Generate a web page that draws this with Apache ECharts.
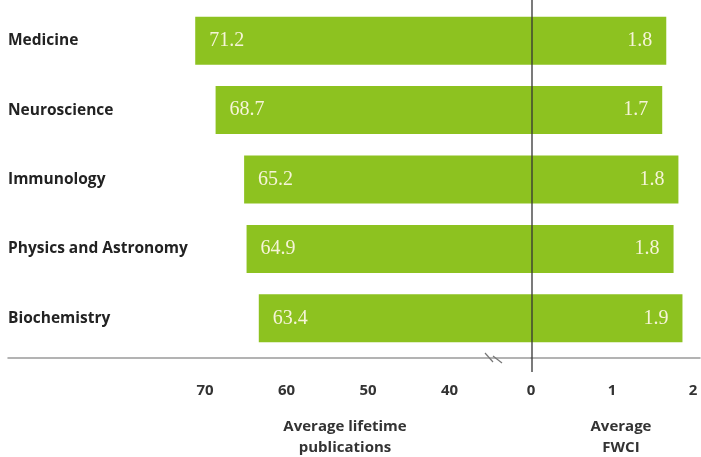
<!DOCTYPE html>
<html>
<head>
<meta charset="utf-8">
<script src="https://cdn.jsdelivr.net/npm/echarts@6/dist/echarts.min.js"></script>
<style>html,body{margin:0;padding:0;background:#fff}#c{width:701px;height:457px}</style>
</head>
<body>
<div id="c"></div>
<script>
const categories = ['Medicine', 'Neuroscience', 'Immunology', 'Physics and Astronomy', 'Biochemistry'];
const publications = [71.2, 68.7, 65.2, 64.9, 63.4];
const fwciBars = [1.67, 1.62, 1.82, 1.76, 1.87];
const fwciLabels = ['1.8', '1.7', '1.8', '1.8', '1.9'];
const pubTicks = [40, 50, 60, 70];
const fwciTicks = [0, 1, 2];

const green = '#8dc220';
const labelColor = '#f6f4d8';
const chart = echarts.init(document.getElementById('c'));
const tickFont = { fontFamily: 'Open Sans', fontWeight: 'bold', fontSize: 15, color: '#333' };

chart.setOption({
  animation: false,
  grid: [
    { left: 8, top: 6, height: 347, width: 523 },
    { left: 531, top: 6, height: 347, right: 1 }
  ],
  xAxis: [
    {
      gridIndex: 0, type: 'value', inverse: true, min: 30, max: 30 + 523 / 8.15, interval: 10,
      offset: 5,
      splitLine: { show: false }, axisTick: { show: false },
      axisLine: { show: true, lineStyle: { color: '#9a9a9a', width: 1.5 } },
      axisLabel: Object.assign({ margin: 25, formatter: v => pubTicks.includes(v) ? String(v) : '' }, tickFont)
    },
    {
      gridIndex: 1, type: 'value', min: 0, max: 169 / 81, interval: 1,
      offset: 5,
      splitLine: { show: false }, axisTick: { show: false },
      axisLine: { show: true, lineStyle: { color: '#9a9a9a', width: 1.5 } },
      axisLabel: Object.assign({ margin: 25, showMaxLabel: false, formatter: v => fwciTicks.includes(v) ? String(v) : '' }, tickFont)
    }
  ],
  yAxis: [
    {
      gridIndex: 0, type: 'category', data: categories, inverse: true,
      axisLine: { show: false }, axisTick: { show: false },
      axisLabel: { inside: true, margin: 0, fontFamily: 'Open Sans', fontWeight: 'bold', fontSize: 15.5, color: '#222', verticalAlign: 'middle', padding: [0, 0, 4, 0] }
    },
    {
      gridIndex: 1, type: 'category', data: categories, inverse: true,
      axisLine: { show: false }, axisTick: { show: false }, axisLabel: { show: false }
    }
  ],
  title: [
    { text: 'Average lifetime\npublications', left: 340, top: 411, textAlign: 'center',
      textStyle: { fontFamily: 'Open Sans', fontWeight: 'bold', fontSize: 15, lineHeight: 21, color: '#333' } },
    { text: 'Average\nFWCI', left: 616, top: 411, textAlign: 'center',
      textStyle: { fontFamily: 'Open Sans', fontWeight: 'bold', fontSize: 15, lineHeight: 21, color: '#333' } }
  ],
  series: [
    {
      type: 'bar', xAxisIndex: 0, yAxisIndex: 0, data: publications, barWidth: 48,
      itemStyle: { color: green },
      label: { show: true, position: 'insideLeft', distance: 14, fontFamily: 'Liberation Serif', fontSize: 20, color: labelColor, formatter: p => p.value.toFixed(1) }
    },
    {
      type: 'bar', xAxisIndex: 1, yAxisIndex: 1, data: fwciBars, barWidth: 48,
      itemStyle: { color: green },
      label: { show: true, position: 'insideRight', distance: 14, fontFamily: 'Liberation Serif', fontSize: 20, color: labelColor, formatter: p => fwciLabels[p.dataIndex] }
    }
  ],
  graphic: [
    { type: 'line', shape: { x1: 532, y1: 0, x2: 532, y2: 372 }, style: { stroke: '#333', lineWidth: 1.3 }, z: 10 },
    { type: 'line', shape: { x1: 485, y1: 353, x2: 493, y2: 362 }, style: { stroke: '#777', lineWidth: 1.2 }, z: 10 },
    { type: 'line', shape: { x1: 493, y1: 356, x2: 502, y2: 363 }, style: { stroke: '#777', lineWidth: 1.2 }, z: 10 }
  ]
});
</script>
</body>
</html>
